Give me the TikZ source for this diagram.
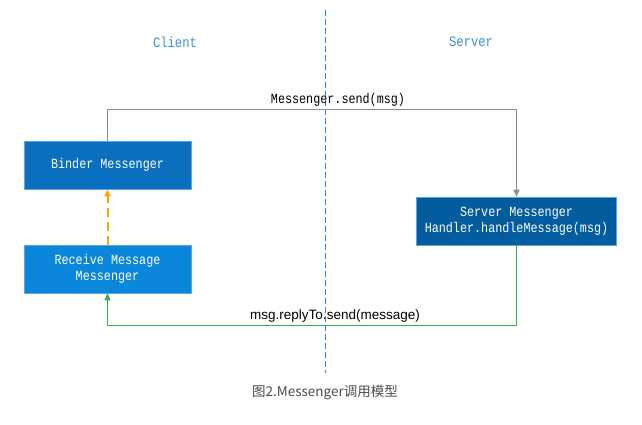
\documentclass[tikz,border=0pt]{standalone}
\usepackage{fontspec}
\setmonofont[FakeStretch=0.84]{Liberation Mono}
\setsansfont{Liberation Sans}
\newfontfamily\cjk{Noto Sans CJK SC}
\usetikzlibrary{arrows.meta}
\definecolor{binderblue}{HTML}{0B6FBF}
\definecolor{receiveblue}{HTML}{0A86DA}
\definecolor{serverblue}{HTML}{035C9E}
\definecolor{edgeblue}{HTML}{5AA6E6}
\definecolor{labelblue}{HTML}{3B8FD6}
\definecolor{divblue}{HTML}{2F88DC}
\definecolor{sendgray}{HTML}{8E8E8E}
\definecolor{replygreen}{HTML}{35B04A}
\definecolor{waitorange}{HTML}{FFA500}

\begin{document}
\begin{tikzpicture}[x=1pt,y=-1pt,>={Triangle[length=7pt,width=6pt]},thick,
    box/.style={rectangle,draw=edgeblue,line width=0.6pt,text=white,minimum height=48pt,align=center,
      font=\ttfamily\fontsize{14}{16}\selectfont},
    side/.style={text=labelblue,font=\ttfamily\fontsize{14.5}{16}\selectfont}]
            \useasboundingbox (0,0) rectangle (642,424);

            \node [box, fill=binderblue, minimum width=167pt](binder) at (107.5,165){Binder Messenger};
            \node [box, fill=receiveblue, minimum width=167pt](receive) at (107.5,269){Receive Message\\Messenger};
            \node [box, fill=serverblue, minimum width=200pt](server) at (516.5,221){Server Messenger\\Handler.handleMessage(msg)};

            \node [side](client) at (175,42){Client};
            \node [side](serverside) at (471,42){Server};

            % dashed divider
            \coordinate (divtop) at (325.5,10);
            \coordinate (divbot) at (325.5,373);
            \draw [divblue, line width=1.4pt, dash pattern=on 6pt off 3pt] (divtop) -- (divbot);

            \coordinate (sendcorner) at (107.5,109.5);
            \coordinate (replycorner) at (516.5,325.5);

            \draw [sendgray, line width=1pt, ->] (binder.north) -- (sendcorner) -| (server.north);
            \node (sendlabel) at (338,100){\ttfamily\fontsize{14}{16}\selectfont Messenger.send(msg)};

            \draw [replygreen, line width=1pt, ->] (server.south) -- (replycorner) -| (receive.south);
            \node (replylabel) at (335,316){\sffamily\fontsize{13.5}{15}\selectfont msg.replyTo.send(message)};

            \draw [waitorange, line width=2pt, dash pattern=on 9pt off 5pt, ->] (receive.north) -- (binder.south);

            \node [text=black!70](caption) at (325,393){\cjk\fontsize{13.5}{15}\selectfont 图2.Messenger调用模型};
        \end{tikzpicture}
\end{document}
